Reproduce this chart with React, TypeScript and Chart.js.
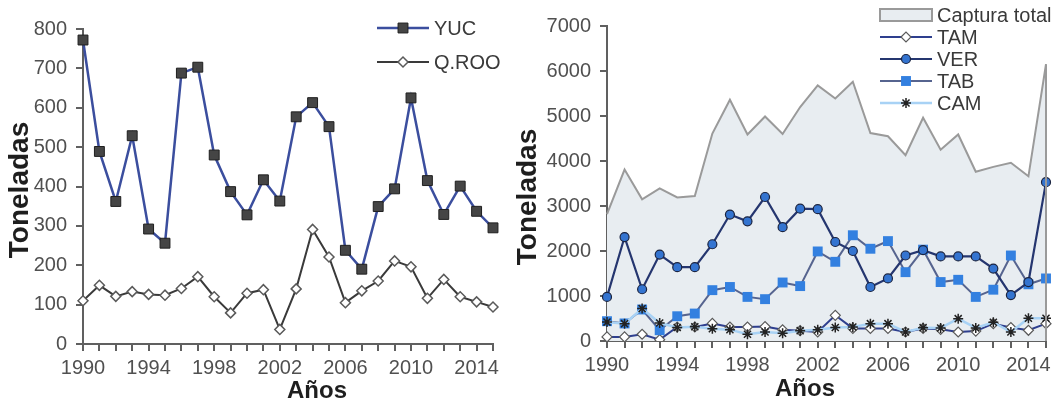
import React, { useEffect, useRef } from 'react';
import { Chart, registerables } from 'chart.js';
import { drawPoint } from 'chart.js/helpers';

Chart.register(...registerables);

// ---------- data ----------
const years = [1990, 1991, 1992, 1993, 1994, 1995, 1996, 1997, 1998, 1999, 2000, 2001, 2002,
  2003, 2004, 2005, 2006, 2007, 2008, 2009, 2010, 2011, 2012, 2013, 2014, 2015];
const xLabelYears = [1990, 1994, 1998, 2002, 2006, 2010, 2014];

const yucValues = [772, 489, 362, 529, 292, 256, 688, 703, 480, 387, 328, 417, 363, 577, 613,
  552, 238, 190, 349, 394, 625, 415, 329, 401, 337, 295];
const qrooValues = [110, 149, 121, 133, 126, 124, 141, 171, 120, 79, 129, 138, 37, 140, 291,
  221, 105, 135, 160, 211, 196, 116, 164, 120, 107, 94];

const totalValues = [2820, 3810, 3150, 3390, 3190, 3220, 4610, 5360, 4590, 4990, 4600, 5200,
  5680, 5390, 5760, 4620, 4550, 4130, 4960, 4250, 4590, 3760, 3870, 3960, 3660, 6150];
const tamValues = [90, 90, 150, 30, 311, 311, 390, 311, 311, 320, 250, 230, 200, 571, 280, 280,
  280, 200, 280, 260, 200, 220, 385, 300, 238, 385];
const verValues = [980, 2310, 1150, 1920, 1640, 1640, 2150, 2810, 2660, 3200, 2530, 2940, 2930,
  2200, 2000, 1200, 1390, 1900, 2020, 1880, 1880, 1880, 1610, 1020, 1310, 3530];
const tabValues = [440, 390, 700, 240, 550, 610, 1130, 1200, 980, 930, 1300, 1220, 1990, 1760,
  2350, 2050, 2220, 1530, 2030, 1310, 1360, 980, 1140, 1900, 1260, 1390];
const camValues = [420, 385, 720, 400, 300, 316, 274, 252, 150, 200, 171, 230, 250, 300, 311,
  385, 385, 200, 297, 290, 497, 290, 416, 200, 505, 505];

const leftYMax = 800;
const leftYStep = 100;
const rightYMax = 7000;
const rightYStep = 1000;

const xTitle = 'Años';
const yTitle = 'Toneladas';

// ---------- styles ----------
const FONT = '"Liberation Sans", Arial, sans-serif';
const TICK_COLOR = '#505050';
const AXIS_COLOR = '#606060';
const TITLE_COLOR = '#1e1e1e';

function xScale(height: number) {
  return {
    type: 'category' as const,
    offset: false,
    afterFit: (s: any) => { s.height = height; },
    grid: { display: true, drawOnChartArea: false, drawTicks: true, tickLength: 7, color: AXIS_COLOR, lineWidth: 2 },
    border: { display: true, color: AXIS_COLOR, width: 2 },
    ticks: {
      autoSkip: false, maxRotation: 0, padding: 5,
      color: TICK_COLOR, font: { family: FONT, size: 20 },
      callback: (_v: any, i: number) => (xLabelYears.includes(years[i]) ? String(years[i]) : ''),
    },
    title: { display: false },
  };
}

function yScale(width: number, max: number, step: number) {
  return {
    min: 0, max,
    afterFit: (s: any) => { s.width = width; },
    grid: { display: true, drawOnChartArea: false, drawTicks: true, tickLength: 7, color: AXIS_COLOR, lineWidth: 2 },
    border: { display: true, color: AXIS_COLOR, width: 2 },
    ticks: {
      stepSize: step, padding: 9, color: TICK_COLOR, font: { family: FONT, size: 20 },
      callback: (v: any) => String(v),
    },
    title: { display: false },
  };
}

// axis titles drawn at chosen spots (canvas-relative)
function titlesPlugin(xx: number, xy: number, yx: number, yy: number) {
  return {
    id: 'axisTitles',
    afterDraw(chart: any) {
      const ctx = chart.ctx as CanvasRenderingContext2D;
      ctx.save();
      ctx.fillStyle = TITLE_COLOR;
      ctx.textAlign = 'center';
      ctx.textBaseline = 'middle';
      ctx.font = `bold 24px ${FONT}`;
      ctx.fillText(xTitle, xx, xy);
      ctx.translate(yx, yy);
      ctx.rotate(-Math.PI / 2);
      ctx.font = `bold 28px ${FONT}`;
      ctx.fillText(yTitle, 0, 0);
      ctx.restore();
    },
  };
}

type LegendEntry = { text: string; ds: any; box?: boolean };

function legendPlugin(entries: LegendEntry[], x1: number, x2: number, y0: number, dy: number) {
  return {
    id: 'customLegend',
    afterDraw(chart: any) {
      const ctx = chart.ctx as CanvasRenderingContext2D;
      ctx.save();
      entries.forEach((e, i) => {
        const y = y0 + i * dy;
        const ds = e.ds;
        if (e.box) {
          ctx.fillStyle = ds.backgroundColor;
          ctx.strokeStyle = ds.borderColor;
          ctx.lineWidth = 2;
          ctx.fillRect(x1, y - 6, x2 - x1, 12);
          ctx.strokeRect(x1, y - 6, x2 - x1, 12);
        } else {
          ctx.strokeStyle = ds.borderColor;
          ctx.lineWidth = ds.borderWidth;
          ctx.beginPath();
          ctx.moveTo(x1, y);
          ctx.lineTo(x2, y);
          ctx.stroke();
          ctx.fillStyle = ds.pointBackgroundColor;
          ctx.strokeStyle = ds.pointBorderColor;
          ctx.lineWidth = ds.pointBorderWidth;
          drawPoint(ctx, { pointStyle: ds.pointStyle, rotation: 0, radius: ds.pointRadius, borderWidth: ds.pointBorderWidth } as any, (x1 + x2) / 2, y);
        }
        ctx.fillStyle = '#3a3a3a';
        ctx.font = `20px ${FONT}`;
        ctx.textBaseline = 'middle';
        ctx.textAlign = 'left';
        ctx.fillText(e.text, x2 + 5, y + 1);
      });
      ctx.restore();
    },
  };
}

const closeAreaPlugin = {
  id: 'closeArea',
  afterDatasetsDraw(chart: any) {
    const meta = chart.getDatasetMeta(0);
    const pts = meta.data;
    if (!pts.length) return;
    const last = pts[pts.length - 1];
    const y0 = chart.scales.y.getPixelForValue(0);
    const ctx = chart.ctx as CanvasRenderingContext2D;
    ctx.save();
    ctx.strokeStyle = '#9a9a9a';
    ctx.lineWidth = 2;
    ctx.beginPath();
    ctx.moveTo(last.x, last.y);
    ctx.lineTo(last.x, y0);
    ctx.stroke();
    ctx.restore();
  },
};

function LeftChart() {
  const ref = useRef<HTMLCanvasElement>(null);
  useEffect(() => {
    const yuc = {
      label: 'YUC', data: yucValues, borderColor: '#3b4e9e', borderWidth: 2.5,
      pointStyle: 'rect', pointRadius: 7, pointBackgroundColor: '#454545', pointBorderColor: '#1f1f1f', pointBorderWidth: 1,
      tension: 0, order: 1,
    };
    const qroo = {
      label: 'Q.ROO', data: qrooValues, borderColor: '#3a3a3a', borderWidth: 2,
      pointStyle: 'rectRot', pointRadius: 5, pointBackgroundColor: '#ffffff', pointBorderColor: '#5a5a5a', pointBorderWidth: 1.5,
      tension: 0, order: 2,
    };
    const chart = new Chart(ref.current!, {
      type: 'line',
      data: { labels: years.map(String), datasets: [yuc as any, qroo as any] },
      options: {
        responsive: false, animation: false,
        layout: { padding: { top: 29, right: 27, left: 0, bottom: 0 } },
        plugins: { legend: { display: false }, tooltip: { enabled: false } },
        scales: { x: xScale(58) as any, y: yScale(83, leftYMax, leftYStep) as any },
      },
      plugins: [
        titlesPlugin(317, 391, 20, 190),
        legendPlugin([{ text: 'YUC', ds: yuc }, { text: 'Q.ROO', ds: qroo }], 377, 429, 28, 34),
      ],
    });
    return () => chart.destroy();
  }, []);
  return <canvas ref={ref} width={520} height={402} style={{ position: 'absolute', left: 0, top: 0 }} />;
}

function RightChart() {
  const ref = useRef<HTMLCanvasElement>(null);
  useEffect(() => {
    const total = {
      label: 'Captura total', data: totalValues, borderColor: '#9a9a9a', borderWidth: 2,
      backgroundColor: '#e8edf1', fill: 'origin', pointRadius: 0, tension: 0, order: 10,
    };
    const tam = {
      label: 'TAM', data: tamValues, borderColor: '#2e3f8e', borderWidth: 2,
      pointStyle: 'rectRot', pointRadius: 5, pointBackgroundColor: '#ffffff', pointBorderColor: '#5a5a5a', pointBorderWidth: 1.2,
      tension: 0, order: 4,
    };
    const ver = {
      label: 'VER', data: verValues, borderColor: '#25366f', borderWidth: 2.2,
      pointStyle: 'circle', pointRadius: 4.5, pointBackgroundColor: '#3474d0', pointBorderColor: '#1b2440', pointBorderWidth: 1.2,
      tension: 0, order: 2,
    };
    const tab = {
      label: 'TAB', data: tabValues, borderColor: '#56648f', borderWidth: 2,
      pointStyle: 'rect', pointRadius: 7, pointBackgroundColor: '#3380e0', pointBorderColor: '#3380e0', pointBorderWidth: 0,
      tension: 0, order: 3,
    };
    const cam = {
      label: 'CAM', data: camValues, borderColor: '#a8d2f5', borderWidth: 2.5,
      pointStyle: 'star', pointRadius: 5, pointBackgroundColor: '#222222', pointBorderColor: '#222222', pointBorderWidth: 1.5,
      tension: 0, order: 1,
    };
    const chart = new Chart(ref.current!, {
      type: 'line',
      data: { labels: years.map(String), datasets: [total as any, tam as any, ver as any, tab as any, cam as any] },
      options: {
        responsive: false, animation: false,
        layout: { padding: { top: 26, right: 9, left: 0, bottom: 0 } },
        plugins: { legend: { display: false }, tooltip: { enabled: false }, filler: { propagate: false } },
        scales: { x: xScale(61) as any, y: yScale(97, rightYMax, rightYStep) as any },
      },
      plugins: [
        closeAreaPlugin,
        titlesPlugin(805 - 510, 389, 528 - 510, 197),
        legendPlugin([
          { text: 'Captura total', ds: total, box: true },
          { text: 'TAM', ds: tam },
          { text: 'VER', ds: ver },
          { text: 'TAB', ds: tab },
          { text: 'CAM', ds: cam },
        ], 370, 422, 15, 22),
      ],
    });
    return () => chart.destroy();
  }, []);
  return <canvas ref={ref} width={545} height={402} style={{ position: 'absolute', left: 510, top: 0 }} />;
}

export default function App() {
  return (
    <div style={{ position: 'absolute', left: 0, top: 0, width: 1055, height: 402, background: '#ffffff', overflow: 'hidden' }}>
      <LeftChart />
      <RightChart />
    </div>
  );
}
